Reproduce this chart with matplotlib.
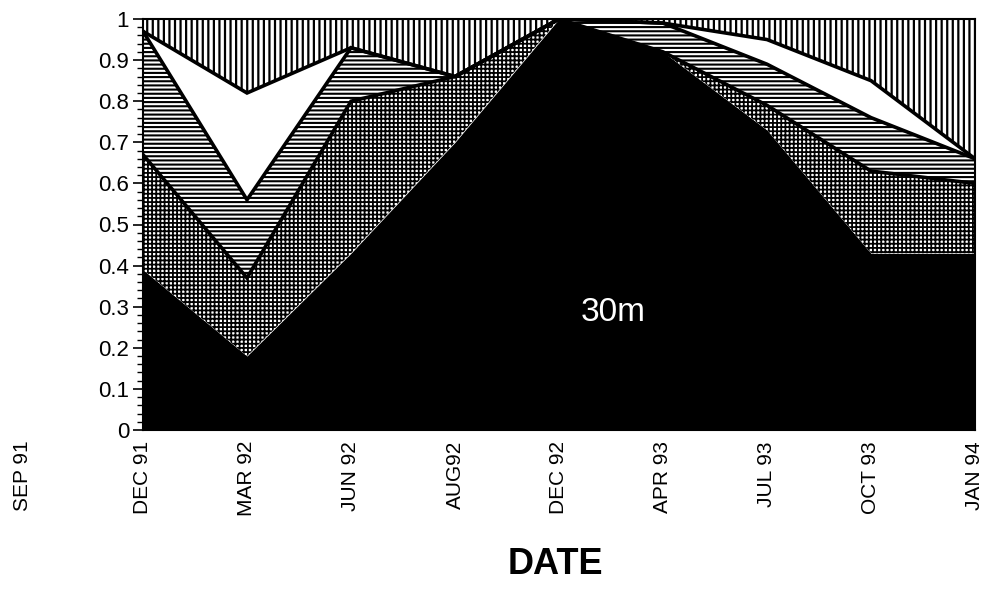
import numpy as np
import matplotlib
matplotlib.use("Agg")
import matplotlib.pyplot as plt
from matplotlib.ticker import MultipleLocator

plt.rcParams['font.family'] = ['Liberation Sans', 'DejaVu Sans']

categories = ["DEC 91", "MAR 92", "JUN 92", "AUG92", "DEC 92", "APR 93", "JUL 93", "OCT 93", "JAN 94"]
extra_label = "SEP 91"
# proportions of each layer (bottom to top)
layer_black  = [0.39, 0.18, 0.43, 0.70, 1.00, 0.92, 0.73, 0.43, 0.43]
layer_dots   = [0.28, 0.19, 0.37, 0.16, 0.00, 0.00, 0.06, 0.20, 0.17]
layer_hlines = [0.30, 0.19, 0.13, 0.00, 0.00, 0.07, 0.10, 0.13, 0.06]
layer_white  = [0.00, 0.26, 0.00, 0.00, 0.00, 0.00, 0.06, 0.09, 0.00]
layer_vlines = [0.03, 0.18, 0.07, 0.14, 0.00, 0.01, 0.05, 0.15, 0.34]
yticks = [0, 0.1, 0.2, 0.3, 0.4, 0.5, 0.6, 0.7, 0.8, 0.9, 1]
ytick_labels = ["0", "0.1", "0.2", "0.3", "0.4", "0.5", "0.6", "0.7", "0.8", "0.9", "1"]
xlabel = "DATE"
annotation = "30m"

x = np.arange(len(categories))
layers = np.array([layer_black, layer_dots, layer_hlines, layer_white, layer_vlines])
cum = np.vstack([np.zeros(len(x)), np.cumsum(layers, axis=0)])

fig = plt.figure(figsize=(9.85, 6.08), dpi=100)
ax = fig.add_axes([143/985, 1 - 430/608, (975-143)/985, (430-19)/608])

styles = [
    dict(facecolor='black', hatch=None, hlw=1.0),
    dict(facecolor='white', hatch='++++', hlw=1.3),
    dict(facecolor='white', hatch='----', hlw=1.5),
    dict(facecolor='white', hatch=None, hlw=1.0),
    dict(facecolor='white', hatch='|||', hlw=1.6),
]
for i, st in enumerate(styles):
    with plt.rc_context({'hatch.linewidth': st['hlw'], 'hatch.color': 'black'}):
        ax.fill_between(x, cum[i], cum[i+1], facecolor=st['facecolor'],
                        hatch=st['hatch'], edgecolor='black', linewidth=0)
for i in range(2, 5):
    ax.plot(x, cum[i], color='black', lw=2.6, solid_joinstyle='miter')

ax.set_xlim(0, len(categories) - 1)
ax.set_ylim(0, 1)
ax.set_xticks(x)
ax.set_xticklabels(categories, rotation=90, fontsize=15)
ax.tick_params(axis='x', length=0, pad=8)
ax.set_yticks(yticks)
ax.set_yticklabels(ytick_labels, fontsize=16)
ax.yaxis.set_minor_locator(MultipleLocator(0.02))
ax.tick_params(axis='y', which='major', length=7, width=1.2, direction='out', pad=3)
ax.tick_params(axis='y', which='minor', length=4, width=1.0, direction='out')
for s in ax.spines.values():
    s.set_linewidth(1.5)

ax.text(-1.16, -0.025, extra_label, rotation=90, fontsize=15, ha='center', va='top',
        transform=ax.get_xaxis_transform(), clip_on=False)
ax.text(4.52, 0.285, annotation, color='white', fontsize=24, ha='center', va='center')
fig.text(555/985, 1 - 565/608, xlabel, fontsize=26, fontweight='bold', ha='center', va='center')

fig.savefig("out.png", dpi=100)
